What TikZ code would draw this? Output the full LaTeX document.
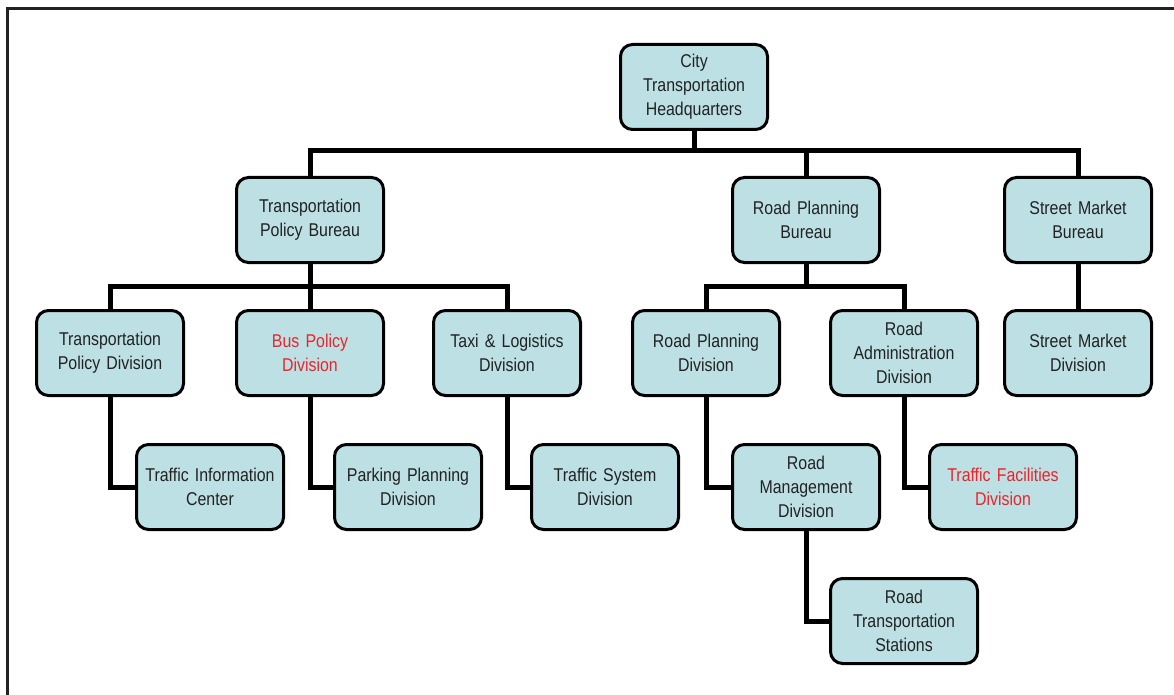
\documentclass[tikz,border=0pt]{standalone}
\usepackage{fontspec}
\newfontfamily\narrowfont{Liberation Sans}[FakeStretch=0.86]
\definecolor{boxfill}{HTML}{BCE0E4}
\definecolor{txt}{HTML}{222222}
\definecolor{redtxt}{HTML}{EE2328}
\definecolor{framec}{HTML}{222222}
\tikzset{
  unit/.style={draw=black, line width=3pt, fill=boxfill, rounded corners=12pt,
    minimum width=147pt, minimum height=85pt, inner sep=2pt, align=center,
    text width=140pt, text=txt,
    font=\narrowfont\fontsize{18.5pt}{24pt}\selectfont},
  redunit/.style={unit, text=redtxt},
  link/.style={draw=black, line width=5pt},
}
\begin{document}
\begin{tikzpicture}[x=1pt,y=-1pt]
\useasboundingbox (0,0) rectangle (1174,695);
\fill[white] (0,0) rectangle (1174,695);
\coordinate (fbl) at (7.5,697);
\coordinate (ftl) at (7.5,8.5);
\coordinate (ftr) at (1176,8.5);
\draw[framec, line width=3pt] (fbl) -- (ftl) -- (ftr);

% nodes
\node[unit] (hq) at (694,87) {City\\Transportation\\Headquarters};
\node[unit] (tpb) at (310,220) {Transportation\\Policy Bureau};
\node[unit] (rpb) at (806,220) {Road Planning\\Bureau};
\node[unit] (smb) at (1078,220) {Street Market\\Bureau};

\node[unit] (tpd) at (110,353) {Transportation\\Policy Division};
\node[redunit] (bpd) at (310,353) {Bus Policy\\Division};
\node[unit] (tld) at (507,353) {Taxi \& Logistics\\Division};
\node[unit] (rpd) at (706,353) {Road Planning\\Division};
\node[unit] (rad) at (904,353) {Road\\Administration\\Division};
\node[unit] (smd) at (1078,353) {Street Market\\Division};

\node[unit] (tic) at (210,487) {Traffic Information\\Center};
\node[unit] (ppd) at (408,487) {Parking Planning\\Division};
\node[unit] (tsd) at (605,487) {Traffic System\\Division};
\node[unit] (rmd) at (806,487) {Road\\Management\\Division};
\node[redunit] (tfd) at (1003,487) {Traffic Facilities\\Division};
\node[unit] (rts) at (904,621) {Road\\Transportation\\Stations};

% connectors
\coordinate (b1) at (694,151);
\coordinate (b2) at (310,286);
\coordinate (b3) at (806,286);
\draw[link] (hq.south) -- (b1);
\draw[link] (tpb.north) -- (tpb.north |- b1) -- (smb.north |- b1) -- (smb.north);
\draw[link] (rpb.north) -- (rpb.north |- b1);
\draw[link] (tpb.south) -- (b2);
\draw[link] (tpd.north) -- (tpd.north |- b2) -- (tld.north |- b2) -- (tld.north);
\draw[link] (bpd.north) -- (bpd.north |- b2);
\draw[link] (rpb.south) -- (b3);
\draw[link] (rpd.north) -- (rpd.north |- b3) -- (rad.north |- b3) -- (rad.north);
\draw[link] (smb.south) -- (smd.north);
\draw[link] (tpd.south) |- (tic.west);
\draw[link] (bpd.south) |- (ppd.west);
\draw[link] (tld.south) |- (tsd.west);
\draw[link] (rpd.south) |- (rmd.west);
\draw[link] (rad.south) |- (tfd.west);
\draw[link] (rmd.south) |- (rts.west);
\end{tikzpicture}
\end{document}
